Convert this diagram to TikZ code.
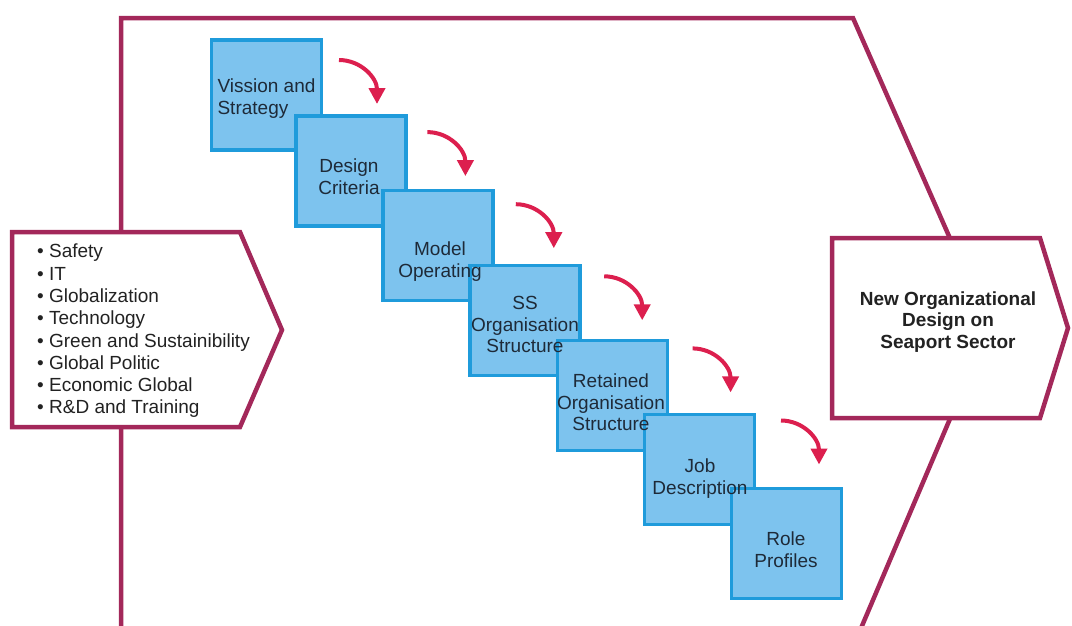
\documentclass[tikz,border=0pt]{standalone}
\usepackage{fontspec}
\setmainfont{Liberation Sans}
\usepackage{xcolor}
\usetikzlibrary{arrows.meta}

\definecolor{framered}{HTML}{A3285A}
\definecolor{boxfill}{HTML}{7DC3EE}
\definecolor{boxblue}{HTML}{1F9BDB}
\definecolor{arrowred}{HTML}{DC1F4E}
\definecolor{boxtext}{HTML}{1E2A38}
\definecolor{listtext}{HTML}{222222}

\tikzset{
	chevron/.style={draw=framered, line width=4.5pt, line join=miter},
	stepbox/.style={draw=boxblue, fill=boxfill, line width=3.2pt,
		minimum width=110pt, minimum height=110pt, inner sep=0pt},
	steptext/.style={align=center, inner sep=0pt, text=boxtext,
		font=\fontsize{19}{21.5}\selectfont},
	flowarrow/.style={draw=arrowred, line width=4pt,
		-{Triangle[length=16pt,width=16pt]}},
}

\begin{document}
\begin{tikzpicture}[x=1pt,y=-1pt]
		\useasboundingbox (0,0) rectangle (1072,625);
		\clip (0,0) rectangle (1072,625);
		% outer frame
		\draw[chevron] (121,640) -- (121,18) -- (853,18) -- (989,327) -- (856,640);
		%
		% left box
		\draw[chevron, fill=white] (12,232) -- (240,232) -- (282,330) -- (240,427) -- (12,427) -- cycle;
		\node[anchor=west, align=left, inner sep=0pt, text=listtext,
			font=\fontsize{19}{22.3}\selectfont] (drivers) at (37,331)
			{\textbullet\ Safety\\ \textbullet\ IT\\ \textbullet\ Globalization\\
			 \textbullet\ Technology\\ \textbullet\ Green and Sustainibility\\
			 \textbullet\ Global Politic\\ \textbullet\ Economic Global\\
			 \textbullet\ R\&D and Training};
		%
		% right box
		\draw[chevron, fill=white] (832,238) -- (1040,238) -- (1068,328) -- (1040,418) -- (832,418) -- cycle;
		\node[align=center, inner sep=0pt, text=listtext,
			font=\fontsize{19}{21.5}\selectfont\bfseries] (result) at (948,322)
			{New Organizational\\Design on\\Seaport Sector};
		%
		% steps
		\node[stepbox] (vision) at (266.5,95) {};
		\node[stepbox] (criteria) at (351,171) {};
		\node[stepbox] (model) at (438,245.5) {};
		\node[stepbox] (ssorg) at (525,320.5) {};
		\node[stepbox] (retained) at (612.5,395.5) {};
		\node[stepbox] (job) at (699.5,469.5) {};
		\node[stepbox] (role) at (786.5,543.5) {};
		% step texts (on top of all boxes)
		\node[steptext, align=left] (visiontext) at (266.5,98.5) {Vission and\\Strategy};
		\node[steptext] (criteriatext) at (349,176.5) {Design\\Criteria};
		\node[steptext] (modeltext) at (440,261.5) {Model\\Operating};
		\node[steptext] (ssorgtext) at (525,324.5) {SS\\Organisation\\Structure};
		\node[steptext] (retainedtext) at (611,402.5) {Retained\\Organisation\\Structure};
		\node[steptext] (jobtext) at (700,478.5) {Job\\Description};
		\node[steptext] (roletext) at (786,549.5) {Role\\Profiles};
		%
		% curved arrows
		\foreach \i in {0,...,5} {
			\coordinate (s\i) at (339+88.4*\i, 60+72.1*\i);
			\coordinate (e\i) at (377+88.4*\i, 104+72.1*\i);
			\draw[flowarrow] (s\i) .. controls +(22,0) and +(0,-26) .. (e\i);
		}
	\end{tikzpicture}
\end{document}
